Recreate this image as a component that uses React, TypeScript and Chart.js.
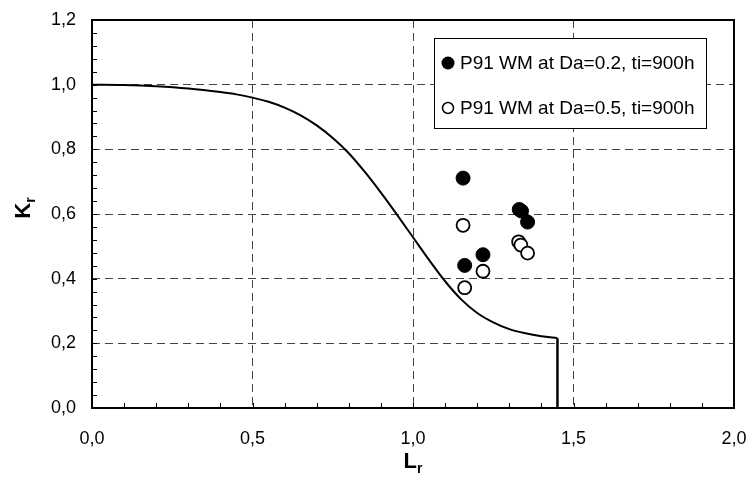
import React, { useEffect, useRef } from "react";
import { Chart, registerables } from "chart.js";

Chart.register(...registerables);

// Failure assessment curve
const curveL = [0, 0.1, 0.2, 0.3, 0.4, 0.45, 0.5, 0.55, 0.6, 0.65, 0.7, 0.75, 0.8, 0.85, 0.9, 0.95, 1.0, 1.05, 1.1, 1.15, 1.2, 1.25, 1.3, 1.35, 1.4, 1.45];
const curveK = [1.0, 0.999, 0.995, 0.988, 0.977, 0.970, 0.960, 0.947, 0.929, 0.905, 0.874, 0.835, 0.788, 0.730, 0.666, 0.598, 0.528, 0.458, 0.392, 0.336, 0.294, 0.265, 0.244, 0.231, 0.222, 0.216];
const cutoffL = [1.45, 1.45];
const cutoffK = [0.216, 0];

// Series
const seriesA_label = "P91 WM at Da=0.2, ti=900h";
const seriesA_L = [1.156, 1.331, 1.338, 1.357, 1.218, 1.161];
const seriesA_K = [0.711, 0.614, 0.609, 0.575, 0.474, 0.441];

const seriesB_label = "P91 WM at Da=0.5, ti=900h";
const seriesB_L = [1.156, 1.329, 1.336, 1.357, 1.218, 1.161];
const seriesB_K = [0.565, 0.514, 0.504, 0.479, 0.423, 0.372];

// Axes
const xTicks = [0, 0.5, 1.0, 1.5, 2.0];
const xTickLabels = ["0,0", "0,5", "1,0", "1,5", "2,0"];
const yTicks = [0, 0.2, 0.4, 0.6, 0.8, 1.0, 1.2];
const yTickLabels = ["0,0", "0,2", "0,4", "0,6", "0,8", "1,0", "1,2"];
const xMinorStep = 0.1;
const yMinorStep = 0.04;

const FONT = "'Liberation Sans', Arial, sans-serif";

const zip = (xs: number[], ys: number[]) => xs.map((x, i) => ({ x, y: ys[i] }));

const framePlugin = {
  id: "frameAndExtras",
  afterDraw(chart: any) {
    const { ctx, chartArea: ca, scales } = chart;
    const xs = scales.x;
    const ys = scales.y;
    ctx.save();
    // minor ticks, pointing inward
    ctx.strokeStyle = "#000";
    ctx.lineWidth = 1;
    ctx.beginPath();
    const nx = Math.round((xs.max - xs.min) / xMinorStep);
    for (let i = 0; i <= nx; i++) {
      const px = Math.round(xs.getPixelForValue(xs.min + i * xMinorStep)) + 0.5;
      ctx.moveTo(px, ca.bottom);
      ctx.lineTo(px, ca.bottom - 5);
    }
    const ny = Math.round((ys.max - ys.min) / yMinorStep);
    for (let i = 0; i <= ny; i++) {
      const py = Math.round(ys.getPixelForValue(ys.min + i * yMinorStep)) + 0.5;
      ctx.moveTo(ca.left, py);
      ctx.lineTo(ca.left + 5, py);
    }
    ctx.stroke();
    // frame
    ctx.lineWidth = 2;
    ctx.strokeRect(ca.left, ca.top, ca.right - ca.left, ca.bottom - ca.top);

    // legend box
    const bx = ca.left + 342;
    const by = ca.top + 18;
    const bw = 272;
    const bh = 90;
    ctx.fillStyle = "#fff";
    ctx.fillRect(bx, by, bw, bh);
    ctx.lineWidth = 1;
    ctx.strokeStyle = "#000";
    ctx.strokeRect(bx + 0.5, by + 0.5, bw, bh);
    const ds = chart.data.datasets.filter((d: any) => d.showInLegend);
    ds.forEach((d: any, i: number) => {
      const cy = by + 25 + i * 45;
      const cx = bx + 14;
      ctx.beginPath();
      ctx.arc(cx, cy, i === 0 ? 6.5 : 5.5, 0, Math.PI * 2);
      if (i === 0) {
        ctx.fillStyle = "#000";
        ctx.fill();
      } else {
        ctx.fillStyle = "#fff";
        ctx.fill();
        ctx.lineWidth = 1.5;
        ctx.stroke();
      }
      ctx.fillStyle = "#000";
      ctx.font = `19px ${FONT}`;
      ctx.textAlign = "left";
      ctx.textBaseline = "middle";
      ctx.fillText(d.label, cx + 12, cy + 1);
    });

    // axis titles with subscripts
    ctx.fillStyle = "#000";
    ctx.textBaseline = "alphabetic";
    const xcx = (ca.left + ca.right) / 2;
    ctx.font = `bold 22px ${FONT}`;
    const wL = ctx.measureText("L").width;
    ctx.font = `bold 14px ${FONT}`;
    const wr = ctx.measureText("r").width;
    let sx = xcx - (wL + wr) / 2;
    ctx.font = `bold 22px ${FONT}`;
    ctx.textAlign = "left";
    ctx.fillText("L", sx, 468);
    ctx.font = `bold 14px ${FONT}`;
    ctx.fillText("r", sx + wL, 473);

    ctx.save();
    ctx.translate(30, (ca.top + ca.bottom) / 2 - 6);
    ctx.rotate(-Math.PI / 2);
    ctx.font = `bold 22px ${FONT}`;
    const wK = ctx.measureText("K").width;
    ctx.font = `bold 14px ${FONT}`;
    const wr2 = ctx.measureText("r").width;
    sx = -(wK + wr2) / 2;
    ctx.font = `bold 22px ${FONT}`;
    ctx.fillText("K", sx, 0);
    ctx.font = `bold 14px ${FONT}`;
    ctx.fillText("r", sx + wK, 5);
    ctx.restore();

    ctx.restore();
  },
};

export default function App() {
  const ref = useRef<HTMLCanvasElement | null>(null);
  useEffect(() => {
    if (!ref.current) return;
    const chart = new Chart(ref.current, {
      type: "scatter",
      data: {
        datasets: [
          {
            label: seriesA_label,
            data: zip(seriesA_L, seriesA_K),
            backgroundColor: "#000",
            borderColor: "#000",
            pointRadius: 7,
            pointBorderWidth: 1,
            showLine: false,
            showInLegend: true,
            order: 1,
          } as any,
          {
            label: seriesB_label,
            data: zip(seriesB_L, seriesB_K),
            backgroundColor: "#fff",
            borderColor: "#000",
            pointRadius: 6.5,
            pointBorderWidth: 1.8,
            showLine: false,
            showInLegend: true,
            order: 0,
          } as any,
          {
            label: "FAD",
            data: zip(curveL, curveK),
            borderColor: "#000",
            borderWidth: 2,
            pointRadius: 0,
            showLine: true,
            cubicInterpolationMode: "monotone",
            order: 2,
          } as any,
          {
            label: "cutoff",
            data: zip(cutoffL, cutoffK),
            borderColor: "#000",
            borderWidth: 2.5,
            pointRadius: 0,
            showLine: true,
            order: 2,
          } as any,
        ],
      },
      options: {
        animation: false,
        responsive: false,
        layout: { padding: { top: 20, right: 18, left: 0, bottom: 0 } },
        plugins: { legend: { display: false }, tooltip: { enabled: false } },
        scales: {
          x: {
            type: "linear",
            min: 0,
            max: 2,
            afterFit: (s: any) => {
              s.height = 71;
              s.paddingLeft = 0;
              s.paddingRight = 0;
            },
            afterBuildTicks: (s: any) => {
              s.ticks = xTicks.map((v) => ({ value: v }));
            },
            ticks: {
              padding: 20,
              color: "#000",
              font: { family: FONT, size: 18 },
              callback: (v: any) => {
                const i = xTicks.findIndex((t) => Math.abs(t - v) < 1e-6);
                return i >= 0 ? xTickLabels[i] : "";
              },
              maxRotation: 0,
            },
            grid: { color: "#444", lineWidth: 1, drawTicks: false },
            border: { display: false, dash: [8, 5] },
          },
          y: {
            type: "linear",
            min: 0,
            max: 1.2,
            afterFit: (s: any) => {
              s.width = 92;
              s.paddingTop = 0;
              s.paddingBottom = 0;
            },
            afterBuildTicks: (s: any) => {
              s.ticks = yTicks.map((v) => ({ value: v }));
            },
            ticks: {
              padding: 16,
              color: "#000",
              font: { family: FONT, size: 18 },
              callback: (v: any) => {
                const i = yTicks.findIndex((t) => Math.abs(t - v) < 1e-6);
                return i >= 0 ? yTickLabels[i] : "";
              },
            },
            grid: { color: "#444", lineWidth: 1, drawTicks: false },
            border: { display: false, dash: [8, 5] },
          },
        },
      },
      plugins: [framePlugin],
    });
    return () => chart.destroy();
  }, []);
  return (
    <div style={{ position: "absolute", left: 0, top: 0, width: 752, height: 479, background: "#fff" }}>
      <canvas ref={ref} width={752} height={479} />
    </div>
  );
}
